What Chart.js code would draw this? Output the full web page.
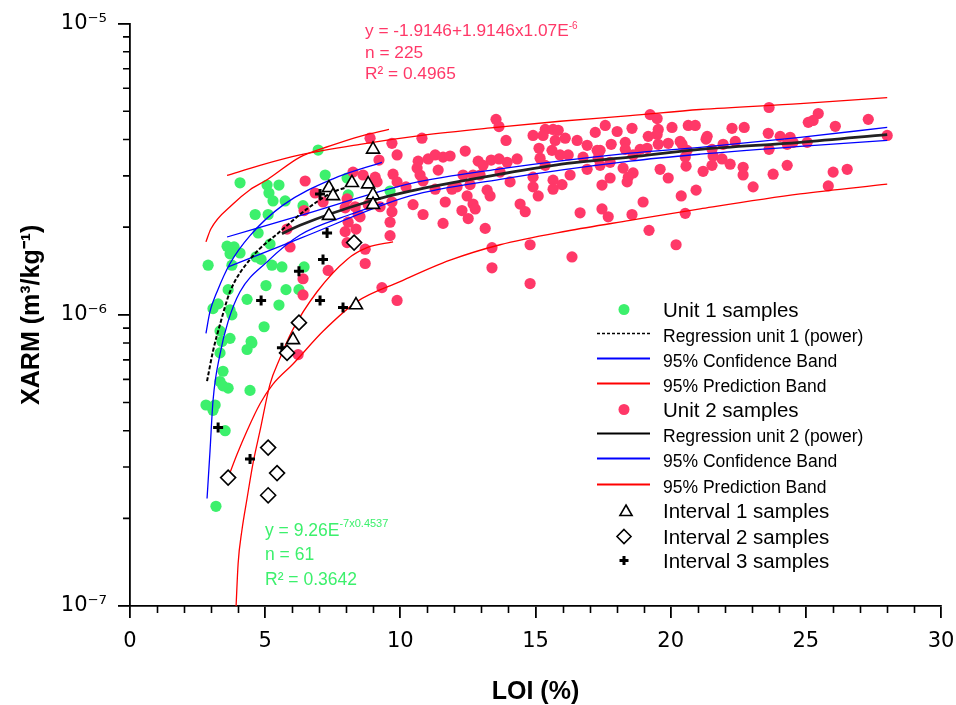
<!DOCTYPE html>
<html><head><meta charset="utf-8">
<script src="https://cdn.jsdelivr.net/npm/chart.js@4.4.1/dist/chart.umd.min.js"></script>
<style>html,body{margin:0;padding:0;background:#fff;}#wrap{width:956px;height:705px;}</style>
</head><body><div id="wrap"><canvas id="c" width="956" height="705"></canvas></div>
<script>
// ---------- axis ticks ----------
const xTickValues = [0, 5, 10, 15, 20, 25, 30];
const xTickLabels = ['0', '5', '10', '15', '20', '25', '30'];
const yTickValues = [1e-7, 1e-6, 1e-5];
const yTickLabels = ['10⁻⁷', '10⁻⁶', '10⁻⁵'];

// ---------- Unit 1 samples (LOI %, XARM m3/kg) ----------
const unit1LOI = [6.96,4.07,5.07,5.51,5.14,5.29,5.74,7.22,8.03,4.63,5.11,4.74,5.18,3.59,3.85,2.89,3.70,4.07,3.77,4.66,4.85,5.25,5.62,6.44,5.03,5.77,6.25,4.33,5.51,3.63,3.26,3.07,3.70,3.77,4.96,3.33,3.70,3.40,4.48,4.33,4.51,3.33,3.44,3.33,3.63,3.44,4.44,2.81,3.15,3.07,3.52,3.18,8.07,9.62,6.40];
const unit1XARM = [3.68e-6,2.84e-6,2.79e-6,2.79e-6,2.62e-6,2.46e-6,2.46e-6,3.02e-6,2.95e-6,2.21e-6,2.21e-6,1.91e-6,1.75e-6,1.72e-6,1.71e-6,1.48e-6,1.62e-6,1.63e-6,1.48e-6,1.58e-6,1.55e-6,1.48e-6,1.46e-6,1.46e-6,1.26e-6,1.22e-6,1.22e-6,1.13e-6,1.08e-6,1.22e-6,1.09e-6,1.05e-6,1.04e-6,1.00e-6,0.91e-6,0.88e-6,0.83e-6,0.81e-6,0.81e-6,0.76e-6,0.80e-6,0.74e-6,0.64e-6,0.59e-6,0.56e-6,0.57e-6,0.55e-6,0.49e-6,0.49e-6,0.47e-6,0.40e-6,0.22e-6,2.58e-6,2.66e-6,2.37e-6];

// ---------- Unit 2 samples ----------
const unit2LOI = [13.54,13.65,8.88,10.80,9.69,13.91,14.91,15.36,15.65,15.84,15.28,16.10,16.54,15.73,17.21,16.91,17.28,15.13,15.61,15.91,12.40,9.88,9.21,10.66,11.03,11.29,11.58,11.84,11.40,10.62,12.88,13.06,13.36,13.65,13.95,14.32,15.17,15.36,16.21,16.76,17.32,16.91,16.28,15.65,15.98,15.65,14.91,14.91,14.06,13.69,12.69,12.95,12.32,10.73,10.84,9.73,8.62,9.07,9.14,8.25,6.48,9.88,10.21,11.29,11.91,12.10,12.58,13.21,13.32,15.10,12.47,9.69,9.69,10.47,11.66,12.69,12.77,14.43,14.62,12.28,12.51,10.84,11.58,13.14,9.62,9.62,8.44,8.07,7.96,8.70,8.70,13.39,13.39,14.80,14.80,16.35,16.65,9.32,9.88,7.33,6.40,6.40,6.85,7.14,8.03,7.96,8.33,8.51,8.81,9.25,8.36,6.44,5.81,5.92,8.03,6.22,19.24,19.50,23.64,25.46,25.27,25.09,27.31,26.09,17.58,18.02,18.57,20.05,20.65,20.91,22.27,22.72,19.54,19.50,19.17,21.35,21.31,23.61,24.05,24.42,24.53,24.31,25.05,28.01,17.80,18.32,18.32,18.87,19.13,19.91,20.35,20.42,19.54,20.61,20.54,21.53,21.57,21.94,22.39,23.64,17.39,17.39,17.76,18.61,21.90,22.20,21.53,20.57,19.61,18.24,18.61,18.43,18.39,21.20,22.68,22.68,23.79,24.31,26.01,26.53,17.76,19.91,17.46,23.05,25.83,20.94,20.39,18.98,17.46,17.69,18.57,20.54,19.20,20.20];
const unit2XARM = [4.69e-6,4.43e-6,4.04e-6,4.04e-6,3.88e-6,3.97e-6,4.13e-6,4.33e-6,4.33e-6,4.30e-6,4.13e-6,4.04e-6,3.97e-6,3.97e-6,4.23e-6,3.82e-6,3.67e-6,3.73e-6,3.67e-6,3.54e-6,3.65e-6,3.54e-6,3.40e-6,3.37e-6,3.43e-6,3.54e-6,3.48e-6,3.51e-6,3.14e-6,3.19e-6,3.37e-6,3.26e-6,3.40e-6,3.43e-6,3.34e-6,3.43e-6,3.45e-6,3.26e-6,3.54e-6,3.48e-6,3.45e-6,3.16e-6,3.02e-6,2.90e-6,2.80e-6,2.70e-6,2.97e-6,2.75e-6,2.86e-6,3.09e-6,3.02e-6,3.02e-6,3.02e-6,3.02e-6,2.88e-6,3.04e-6,3.02e-6,2.97e-6,2.86e-6,3.09e-6,2.88e-6,2.86e-6,2.75e-6,2.70e-6,2.70e-6,2.75e-6,2.80e-6,2.68e-6,2.56e-6,2.56e-6,2.56e-6,2.44e-6,2.26e-6,2.39e-6,2.44e-6,2.40e-6,2.31e-6,2.40e-6,2.26e-6,2.28e-6,2.14e-6,2.21e-6,2.06e-6,1.98e-6,2.08e-6,1.87e-6,2.21e-6,2.08e-6,1.93e-6,1.68e-6,1.50e-6,1.70e-6,1.45e-6,1.74e-6,1.28e-6,1.58e-6,2.24e-6,1.24e-6,1.12e-6,1.42e-6,1.17e-6,1.33e-6,2.62e-6,2.44e-6,2.50e-6,2.33e-6,2.35e-6,2.17e-6,2.39e-6,2.35e-6,1.97e-6,2.28e-6,1.97e-6,1.71e-6,1.77e-6,0.73e-6,4.87e-6,4.72e-6,5.15e-6,4.91e-6,4.65e-6,4.58e-6,4.69e-6,4.44e-6,4.47e-6,4.26e-6,4.37e-6,4.40e-6,4.47e-6,4.47e-6,4.37e-6,4.40e-6,4.33e-6,4.16e-6,4.10e-6,4.10e-6,4.01e-6,4.20e-6,4.10e-6,4.07e-6,3.91e-6,3.85e-6,3.91e-6,4.13e-6,3.85e-6,3.91e-6,3.70e-6,3.70e-6,3.73e-6,3.88e-6,3.94e-6,3.85e-6,3.85e-6,3.67e-6,3.48e-6,3.70e-6,3.51e-6,3.85e-6,3.94e-6,3.70e-6,3.67e-6,3.26e-6,3.34e-6,3.54e-6,3.43e-6,3.29e-6,3.26e-6,3.24e-6,3.16e-6,3.19e-6,3.07e-6,2.97e-6,2.86e-6,3.11e-6,3.21e-6,3.02e-6,3.04e-6,3.26e-6,3.09e-6,3.16e-6,2.95e-6,2.95e-6,2.79e-6,2.75e-6,2.77e-6,2.68e-6,2.56e-6,2.44e-6,2.31e-6,2.17e-6,2.21e-6,2.23e-6,1.95e-6,1.74e-6];

// ---------- Interval samples ----------
const int1LOI = [8.99,7.36,7.51,8.21,8.81,8.99,8.99,7.36,8.36,6.03];
const int1XARM = [3.70e-6,2.73e-6,2.56e-6,2.84e-6,2.81e-6,2.58e-6,2.39e-6,2.19e-6,1.08e-6,0.82e-6];
const int2LOI = [8.29,6.25,5.81,3.63,5.11,5.44,5.11];
const int2XARM = [1.77e-6,0.94e-6,0.74e-6,0.276e-6,0.35e-6,0.286e-6,0.24e-6];
const int3LOI = [7.03,7.29,7.14,6.25,4.85,7.03,7.88,5.62,3.26,4.44];
const int3XARM = [2.60e-6,1.91e-6,1.55e-6,1.41e-6,1.12e-6,1.12e-6,1.06e-6,0.77e-6,0.41e-6,0.32e-6];

// ---------- Unit 1 fit curves ----------
const reg1LOI = [2.85,3.07,3.33,3.70,4.44,5.66,6.55,7.51,7.96];
const reg1XARM = [0.592e-6,0.750e-6,0.927e-6,1.20e-6,1.55e-6,1.97e-6,2.31e-6,2.64e-6,2.73e-6];
const ci1UpLOI = [2.81,2.96,3.22,3.70,4.44,5.66,7.51,9.32];
const ci1UpXARM = [0.864e-6,1.027e-6,1.20e-6,1.50e-6,1.87e-6,2.38e-6,2.93e-6,3.34e-6];
const ci1LoLOI = [2.85,2.96,3.07,3.33,3.63,4.07,5.07,6.29,8.14,9.36];
const ci1LoXARM = [0.234e-6,0.341e-6,0.506e-6,0.733e-6,0.949e-6,1.20e-6,1.52e-6,1.88e-6,2.21e-6,2.42e-6];
const pi1UpLOI = [2.81,2.99,3.81,4.44,5.07,6.29,7.40,8.51,9.58];
const pi1UpXARM = [1.78e-6,1.97e-6,2.40e-6,2.69e-6,2.91e-6,3.48e-6,3.80e-6,4.10e-6,4.33e-6];
const pi1LoLOI = [3.92,4.00,4.14,4.33,4.55,4.81,5.18,5.55,5.99,6.92,8.03,8.77,9.73];
const pi1LoXARM = [0.098e-6,0.140e-6,0.182e-6,0.234e-6,0.309e-6,0.400e-6,0.578e-6,0.71e-6,0.878e-6,1.20e-6,1.55e-6,1.70e-6,1.78e-6];

// ---------- Unit 2 fit curves ----------
const reg2LOI = [5.62,6.29,8.77,10.36,13.69,16.17,18.50,21.09,24.79,28.01];
const reg2XARM = [1.90e-6,2.03e-6,2.44e-6,2.66e-6,3.04e-6,3.31e-6,3.48e-6,3.70e-6,3.91e-6,4.16e-6];
const ci2UpLOI = [3.59,6.29,10.36,13.69,18.50,21.09,24.79,28.01];
const ci2UpXARM = [1.85e-6,2.19e-6,2.82e-6,3.17e-6,3.59e-6,3.76e-6,4.07e-6,4.40e-6];
const ci2LoLOI = [3.63,6.29,10.36,13.69,18.50,21.09,24.79,28.01];
const ci2LoXARM = [1.46e-6,1.83e-6,2.56e-6,2.92e-6,3.37e-6,3.56e-6,3.79e-6,3.97e-6];
const pi2UpLOI = [3.59,4.81,6.29,8.51,10.80,13.54,15.91,18.50,21.09,24.79,28.01];
const pi2UpXARM = [3.01e-6,3.26e-6,3.54e-6,3.85e-6,4.13e-6,4.40e-6,4.62e-6,4.83e-6,5.07e-6,5.31e-6,5.57e-6];
const pi2LoLOI = [3.63,3.96,4.33,4.81,5.29,6.03,7.14,8.40,9.99,11.84,13.69,16.17,18.50,21.09,24.79,28.01];
const pi2LoXARM = [0.276e-6,0.332e-6,0.400e-6,0.495e-6,0.578e-6,0.678e-6,0.878e-6,1.11e-6,1.30e-6,1.54e-6,1.74e-6,1.94e-6,2.11e-6,2.31e-6,2.60e-6,2.81e-6];

// ---------- styling ----------
const GREEN = '#3cf06c', PINK = '#ff3868', BLUE = '#0000ff', RED = '#ff0000', BLACK = '#000000';
const FONT = "'Liberation Sans', Arial, sans-serif";

function pts(xs, ys) { return xs.map((x, i) => ({ x: x, y: ys[i] })); }
function curve(xs, ys, color, width, dash, order) {
  return { data: pts(xs, ys), showLine: true, pointRadius: 0, pointHoverRadius: 0,
    borderColor: color, backgroundColor: color, borderWidth: width, borderDash: dash || [],
    fill: false, cubicInterpolationMode: 'monotone', order: order };
}

const datasets = [
  { label: 'Interval 1 samples', data: pts(int1LOI, int1XARM), pointStyle: 'triangle', pointRadius: 7.5,
    borderColor: BLACK, backgroundColor: '#ffffff', borderWidth: 1.6, order: 0 },
  { label: 'Interval 2 samples', data: pts(int2LOI, int2XARM), pointStyle: 'rectRot', pointRadius: 7.5,
    borderColor: BLACK, backgroundColor: '#ffffff', borderWidth: 1.6, order: 1 },
  { label: 'Interval 3 samples', data: pts(int3LOI, int3XARM), pointStyle: 'cross', pointRadius: 5,
    borderColor: BLACK, backgroundColor: BLACK, borderWidth: 3, order: 2 },
  curve(reg1LOI, reg1XARM, BLACK, 2, [4, 2], 3),
  curve(ci1UpLOI, ci1UpXARM, BLUE, 1.3, null, 4),
  curve(ci1LoLOI, ci1LoXARM, BLUE, 1.3, null, 4),
  curve(pi1UpLOI, pi1UpXARM, RED, 1.3, null, 5),
  curve(pi1LoLOI, pi1LoXARM, RED, 1.3, null, 5),
  curve(reg2LOI, reg2XARM, '#222222', 2.8, null, 3),
  curve(ci2UpLOI, ci2UpXARM, BLUE, 1.3, null, 4),
  curve(ci2LoLOI, ci2LoXARM, BLUE, 1.3, null, 4),
  curve(pi2UpLOI, pi2UpXARM, RED, 1.3, null, 5),
  curve(pi2LoLOI, pi2LoXARM, RED, 1.3, null, 5),
  { label: 'Unit 2 samples', data: pts(unit2LOI, unit2XARM), pointStyle: 'circle', pointRadius: 5.6,
    borderWidth: 0, backgroundColor: PINK, borderColor: PINK, order: 20 },
  { label: 'Unit 1 samples', data: pts(unit1LOI, unit1XARM), pointStyle: 'circle', pointRadius: 5.6,
    borderWidth: 0, backgroundColor: GREEN, borderColor: GREEN, order: 21 }
];

// legend entries (label, symbol kind, colour)
const legendEntries = [
  { text: 'Unit 1 samples', kind: 'circle', color: GREEN, big: true },
  { text: 'Regression unit 1 (power)', kind: 'dash', color: BLACK },
  { text: '95% Confidence Band', kind: 'line', color: BLUE },
  { text: '95% Prediction Band', kind: 'line', color: RED },
  { text: 'Unit 2 samples', kind: 'circle', color: PINK, big: true },
  { text: 'Regression unit 2 (power)', kind: 'line', color: BLACK },
  { text: '95% Confidence Band', kind: 'line', color: BLUE },
  { text: '95% Prediction Band', kind: 'line', color: RED },
  { text: 'Interval 1 samples', kind: 'triangle', color: BLACK, big: true },
  { text: 'Interval 2 samples', kind: 'diamond', color: BLACK, big: true },
  { text: 'Interval 3 samples', kind: 'cross', color: BLACK, big: true }
];

const minorTicks = {
  id: 'minorTicks',
  afterDraw(chart) {
    const { ctx, chartArea: a } = chart;
    const xs = chart.scales.x, ys = chart.scales.y;
    ctx.save();
    ctx.strokeStyle = BLACK; ctx.lineWidth = 1.6;
    ctx.beginPath();
    for (let v = 1; v < 30; v++) {
      if (v % 5 === 0) continue;
      const px = Math.round(xs.getPixelForValue(v)) + 0.5;
      ctx.moveTo(px, a.bottom); ctx.lineTo(px, a.bottom + 7);
    }
    for (const d of [1e-7, 1e-6]) {
      for (let m = 2; m <= 9; m++) {
        const py = ys.getPixelForValue(m * d);
        ctx.moveTo(a.left - 7, py); ctx.lineTo(a.left, py);
      }
    }
    ctx.stroke();
    ctx.restore();
  }
};

function drawRich(ctx, x, y, parts, size, supSize, raise, color) {
  let cx = x;
  ctx.fillStyle = color;
  ctx.textBaseline = 'alphabetic';
  ctx.textAlign = 'left';
  for (const p of parts) {
    ctx.font = (p.sup ? supSize : size) + 'px ' + FONT;
    ctx.fillText(p.t, cx, p.sup ? y - raise : y);
    cx += ctx.measureText(p.t).width;
  }
}

const annotations = {
  id: 'annotations',
  afterDraw(chart) {
    const ctx = chart.ctx;
    ctx.save();
    drawRich(ctx, 365, 36, [{ t: 'y = -1.9146+1.9146x1.07E' }, { t: '-6', sup: true }], 17.3, 10, 7, PINK);
    drawRich(ctx, 365, 58, [{ t: 'n = 225' }], 17.3, 10, 7, PINK);
    drawRich(ctx, 365, 79, [{ t: 'R² = 0.4965' }], 17.3, 10, 7, PINK);
    drawRich(ctx, 265, 536, [{ t: 'y = 9.26E' }, { t: '-7x0.4537', sup: true }], 17.5, 11, 9, GREEN);
    drawRich(ctx, 265, 560, [{ t: 'n = 61' }], 17.5, 11, 9, GREEN);
    drawRich(ctx, 265, 585, [{ t: 'R² = 0.3642' }], 17.5, 11, 9, GREEN);
    ctx.restore();
  }
};

const insideLegend = {
  id: 'insideLegend',
  afterDraw(chart) {
    const ctx = chart.ctx;
    const baselines = [317, 342, 367, 392, 417, 442, 467, 493, 518, 544, 568];
    const symX = 624, lineX0 = 597, lineX1 = 650, textX = 663;
    ctx.save();
    legendEntries.forEach((e, i) => {
      const b = baselines[i];
      const sy = e.big ? b - 7.5 : b - 8.5;
      ctx.setLineDash([]);
      ctx.strokeStyle = e.color; ctx.fillStyle = e.color;
      if (e.kind === 'line' || e.kind === 'dash') {
        ctx.lineWidth = e.kind === 'dash' ? 1.6 : 1.8;
        if (e.kind === 'dash') ctx.setLineDash([3, 2]);
        ctx.beginPath(); ctx.moveTo(lineX0, sy); ctx.lineTo(lineX1, sy); ctx.stroke();
        ctx.setLineDash([]);
      } else if (e.kind === 'circle') {
        ctx.beginPath(); ctx.arc(symX, sy, 5.5, 0, Math.PI * 2); ctx.fill();
      } else if (e.kind === 'triangle') {
        const r = 7;
        ctx.lineWidth = 1.6;
        ctx.beginPath();
        for (let k = 0; k < 3; k++) {
          const ang = -Math.PI / 2 + k * 2 * Math.PI / 3;
          const px = symX + 2 + r * Math.cos(ang), py = sy + 1.5 + r * Math.sin(ang);
          if (k === 0) ctx.moveTo(px, py); else ctx.lineTo(px, py);
        }
        ctx.closePath(); ctx.stroke();
      } else if (e.kind === 'diamond') {
        const r = 7;
        ctx.lineWidth = 1.6;
        ctx.beginPath();
        ctx.moveTo(symX, sy - r); ctx.lineTo(symX + r, sy); ctx.lineTo(symX, sy + r); ctx.lineTo(symX - r, sy);
        ctx.closePath(); ctx.stroke();
      } else if (e.kind === 'cross') {
        const r = 4.5;
        ctx.lineWidth = 3;
        ctx.beginPath();
        ctx.moveTo(symX - r, sy); ctx.lineTo(symX + r, sy);
        ctx.moveTo(symX, sy - r); ctx.lineTo(symX, sy + r);
        ctx.stroke();
      }
      ctx.fillStyle = BLACK;
      ctx.font = (e.big ? 20.5 : 17.5) + 'px ' + FONT;
      ctx.textBaseline = 'alphabetic';
      ctx.textAlign = 'left';
      ctx.fillText(e.text, textX, b);
    });
    ctx.restore();
  }
};

new Chart(document.getElementById('c'), {
  type: 'scatter',
  data: { datasets: datasets },
  options: {
    responsive: false,
    animation: false,
    events: [],
    layout: { padding: { left: 0, right: 0, top: 21, bottom: 0 } },
    plugins: { legend: { display: false }, tooltip: { enabled: false }, title: { display: false } },
    scales: {
      x: {
        type: 'linear', min: 0, max: 30,
        afterBuildTicks: (s) => { s.ticks = xTickValues.map(v => ({ value: v })); },
        afterFit: (s) => { s.height = 99; s.paddingRight = 15; s.paddingLeft = 0; },
        ticks: { autoSkip: false, maxRotation: 0, padding: 11, color: BLACK,
          font: { family: "'DejaVu Sans', sans-serif", size: 21 },
          callback: (v, i) => xTickLabels[i] },
        grid: { drawOnChartArea: false, drawTicks: true, tickLength: 12, color: BLACK, lineWidth: 1.8 },
        border: { display: true, color: BLACK, width: 1.8 },
        title: { display: true, text: 'LOI (%)', color: BLACK,
          font: { family: FONT, size: 25, weight: 'bold', lineHeight: 1 }, padding: { top: 0, bottom: 0 } }
      },
      y: {
        type: 'logarithmic', min: 1e-7, max: 1e-5,
        afterBuildTicks: (s) => { s.ticks = yTickValues.map(v => ({ value: v })); },
        afterFit: (s) => { s.width = 130; },
        ticks: { autoSkip: false, padding: 11, color: BLACK,
          font: { family: "'DejaVu Sans', sans-serif", size: 21 },
          callback: (v, i) => yTickLabels[i] },
        grid: { drawOnChartArea: false, drawTicks: true, tickLength: 12, color: BLACK, lineWidth: 1.8 },
        border: { display: true, color: BLACK, width: 1.8 },
        title: { display: true, text: 'XARM (m³/kg⁻¹)', color: BLACK,
          font: { family: FONT, size: 25, weight: 'bold', lineHeight: 1 }, padding: { top: 20, bottom: 0 } }
      }
    }
  },
  plugins: [minorTicks, annotations, insideLegend]
});
</script>
</body></html>
